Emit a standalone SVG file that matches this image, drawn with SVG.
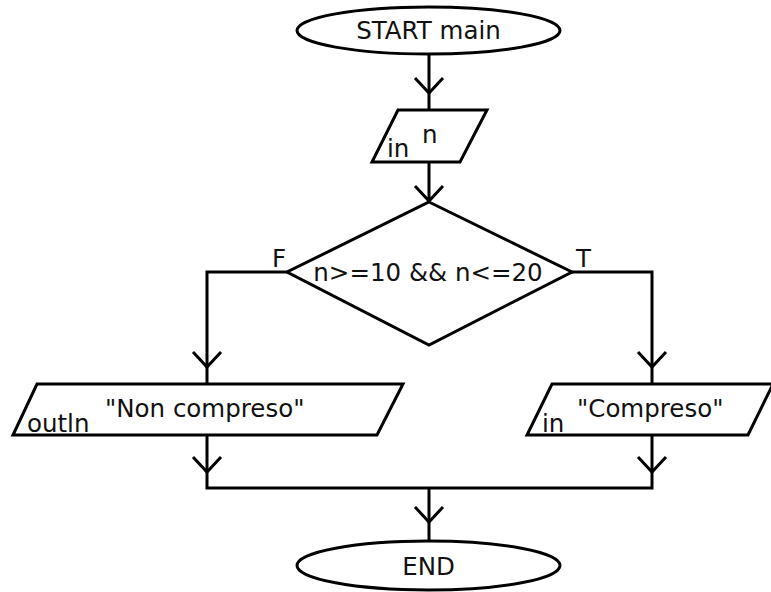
<svg xmlns="http://www.w3.org/2000/svg" xmlns:xlink="http://www.w3.org/1999/xlink" width="771" height="592" viewBox="0 0 771 592">
<style>
.shape{fill:#fff;stroke:#000;stroke-width:3;stroke-linejoin:miter}
.line{fill:none;stroke:#000;stroke-width:3}
text{font-family:"DejaVu Sans","Liberation Sans",sans-serif;font-size:24.5px;fill:#111}
</style>
<defs>
<path id="chev" d="M-14,-15 L0,0 L14,-15" fill="none" stroke="#000" stroke-width="3"/>
</defs>
<rect width="771" height="592" fill="#fff"/>
<g id="connectors">
<path class="line" d="M429,54 V110"/>
<use xlink:href="#chev" x="429" y="93"/>
<path class="line" d="M429,162 V202"/>
<use xlink:href="#chev" x="429" y="201"/>
<path class="line" d="M287,272 H207 V384"/>
<use xlink:href="#chev" x="207" y="367"/>
<path class="line" d="M572,272 H652 V384"/>
<use xlink:href="#chev" x="652" y="367"/>
<path class="line" d="M207,435 V488 H652 V435"/>
<use xlink:href="#chev" x="207" y="472"/>
<use xlink:href="#chev" x="652" y="472"/>
<path class="line" d="M429,488 V541"/>
<use xlink:href="#chev" x="429" y="522"/>
<text x="272" y="267">F</text>
<text x="576" y="267">T</text>
</g>
<g id="start">
<ellipse class="shape" cx="428.5" cy="30.5" rx="131.5" ry="23.5"/>
<text x="428.5" y="39" text-anchor="middle">START main</text>
</g>
<g id="input_n">
<polygon class="shape" points="398,110 487,110 460,162 372,162"/>
<text x="387" y="157">in</text>
<text x="422" y="143">n</text>
</g>
<g id="decision">
<polygon class="shape" points="429,202 572,272 429,345 287,272"/>
<text x="428" y="281" text-anchor="middle">n&gt;=10 &amp;&amp; n&lt;=20</text>
</g>
<g id="out_non">
<polygon class="shape" points="37,384 403,384 377,435 13,435"/>
<text x="27" y="432">outln</text>
<text x="105" y="417">"Non compreso"</text>
</g>
<g id="out_comp">
<polygon class="shape" points="552,384 773,384 748,435 527,435"/>
<text x="542" y="432">in</text>
<text x="577" y="417">"Compreso"</text>
</g>
<g id="end">
<ellipse class="shape" cx="428.5" cy="565.5" rx="131.5" ry="24.5"/>
<text x="428.5" y="575" text-anchor="middle">END</text>
</g>
</svg>
